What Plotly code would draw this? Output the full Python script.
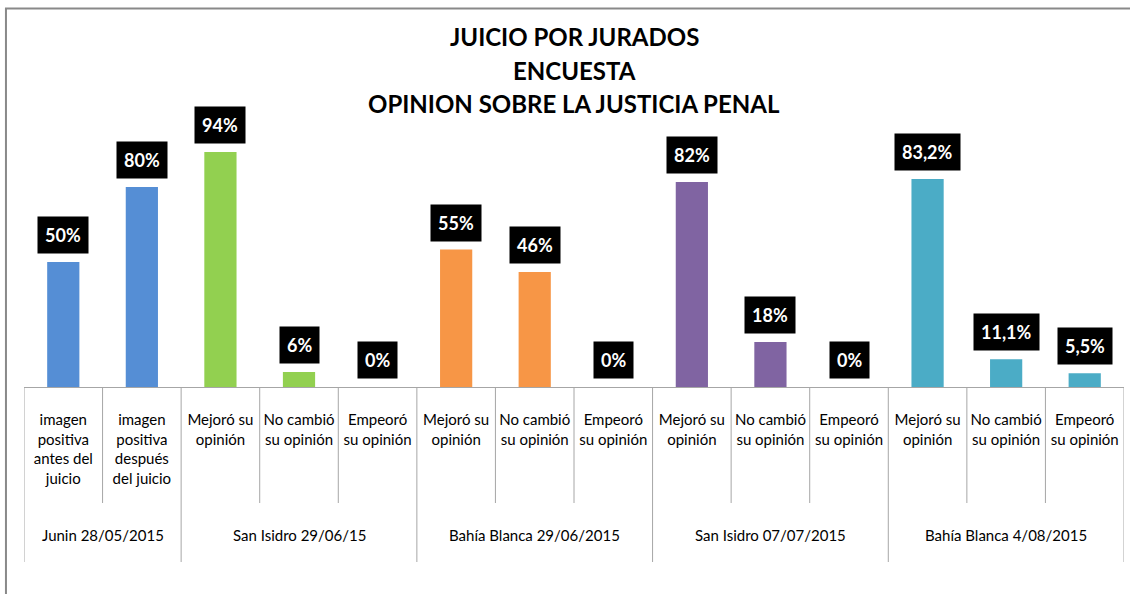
import plotly.graph_objects as go

# ---- data ----
groups = ["Junin 28/05/2015", "San Isidro 29/06/15", "Bahía Blanca 29/06/2015",
          "San Isidro 07/07/2015", "Bahía Blanca 4/08/2015"]
group_sizes = [2, 3, 3, 3, 3]
group_colors = ["#558ED5", "#92D050", "#F79646", "#8064A2", "#4BACC6"]
categories = [
    "imagen<br>positiva<br>antes del<br>juicio",
    "imagen<br>positiva<br>después<br>del juicio",
    "Mejoró su<br>opinión", "No cambió<br>su opinión", "Empeoró<br>su opinión",
    "Mejoró su<br>opinión", "No cambió<br>su opinión", "Empeoró<br>su opinión",
    "Mejoró su<br>opinión", "No cambió<br>su opinión", "Empeoró<br>su opinión",
    "Mejoró su<br>opinión", "No cambió<br>su opinión", "Empeoró<br>su opinión",
]
values = [50, 80, 94, 6, 0, 55, 46, 0, 82, 18, 0, 83.2, 11.1, 5.5]
value_labels = ["50%", "80%", "94%", "6%", "0%", "55%", "46%", "0%",
                "82%", "18%", "0%", "83,2%", "11,1%", "5,5%"]
title_lines = ["JUICIO POR JURADOS", "ENCUESTA", "OPINION SOBRE LA JUSTICIA PENAL"]

FONT = "Lato"
GRID = "#A6A6A6"

# per-bar colours
bar_colors = []
for gi, n in enumerate(group_sizes):
    bar_colors += [group_colors[gi]] * n

xs = list(range(len(values)))

fig = go.Figure()
fig.add_trace(go.Bar(
    x=xs, y=values, width=0.41,
    marker=dict(color=bar_colors, line=dict(width=0)),
    hoverinfo="skip", showlegend=False,
))

annotations = []
# value labels
for x, v, lab in zip(xs, values, value_labels):
    annotations.append(dict(
        x=x, y=v, xref="x", yref="y", text="<b>%s</b>" % lab, showarrow=False,
        yanchor="bottom", yshift=8, bgcolor="black", borderpad=7,
        font=dict(family=FONT, size=18, color="white"),
    ))

# title lines
title_y = [1.404, 1.268, 1.136]
for t, ty in zip(title_lines, title_y):
    annotations.append(dict(
        x=0.5, y=ty, xref="paper", yref="paper", text="<b>%s</b>" % t,
        showarrow=False, yanchor="middle",
        font=dict(family=FONT, size=24, color="black"),
    ))

# group labels + divider shapes
shapes = []
start = 0
bounds = [-0.5]
for g, n in zip(groups, group_sizes):
    center = start + (n - 1) / 2
    annotations.append(dict(
        x=center, y=-0.592, xref="x", yref="paper", text=g, showarrow=False,
        yanchor="middle", font=dict(family=FONT, size=15, color="black"),
    ))
    start += n
    bounds.append(start - 0.5)

# inner dividers (between every category)
for b in [i - 0.5 for i in range(len(values) + 1)]:
    if b in bounds:
        continue
    shapes.append(dict(type="line", xref="x", yref="paper", x0=b, x1=b,
                       y0=0, y1=-0.464, line=dict(color=GRID, width=1)))
# outer dividers (between groups)
for b in bounds:
    shapes.append(dict(type="line", xref="x", yref="paper", x0=b, x1=b,
                       y0=0, y1=-0.70, line=dict(color=GRID, width=1)))

# outer frame
shapes.append(dict(type="rect", xref="paper", yref="paper",
                   x0=-0.0164, x1=1.02, y0=-1.2, y1=1.514,
                   line=dict(color="#898989", width=2), fillcolor="rgba(0,0,0,0)",
                   layer="below"))

fig.update_layout(
    width=1130, height=594,
    margin=dict(l=24, r=6, t=137, b=207),
    paper_bgcolor="white", plot_bgcolor="white",
    annotations=annotations, shapes=shapes,
    xaxis=dict(
        range=[-0.5, len(values) - 0.5], tickmode="array", tickvals=xs,
        ticktext=categories, showgrid=False, zeroline=False,
        showline=True, linecolor=GRID, linewidth=1,
        ticks="outside", ticklen=19, tickcolor="rgba(0,0,0,0)",
        tickfont=dict(family=FONT, size=15, color="black"),
        fixedrange=True,
    ),
    yaxis=dict(range=[0, 100], visible=False, fixedrange=True),
    font=dict(family=FONT),
)

fig.write_html("out.html", config={"displayModeBar": False},
               post_script="document.body.style.margin='0';")
